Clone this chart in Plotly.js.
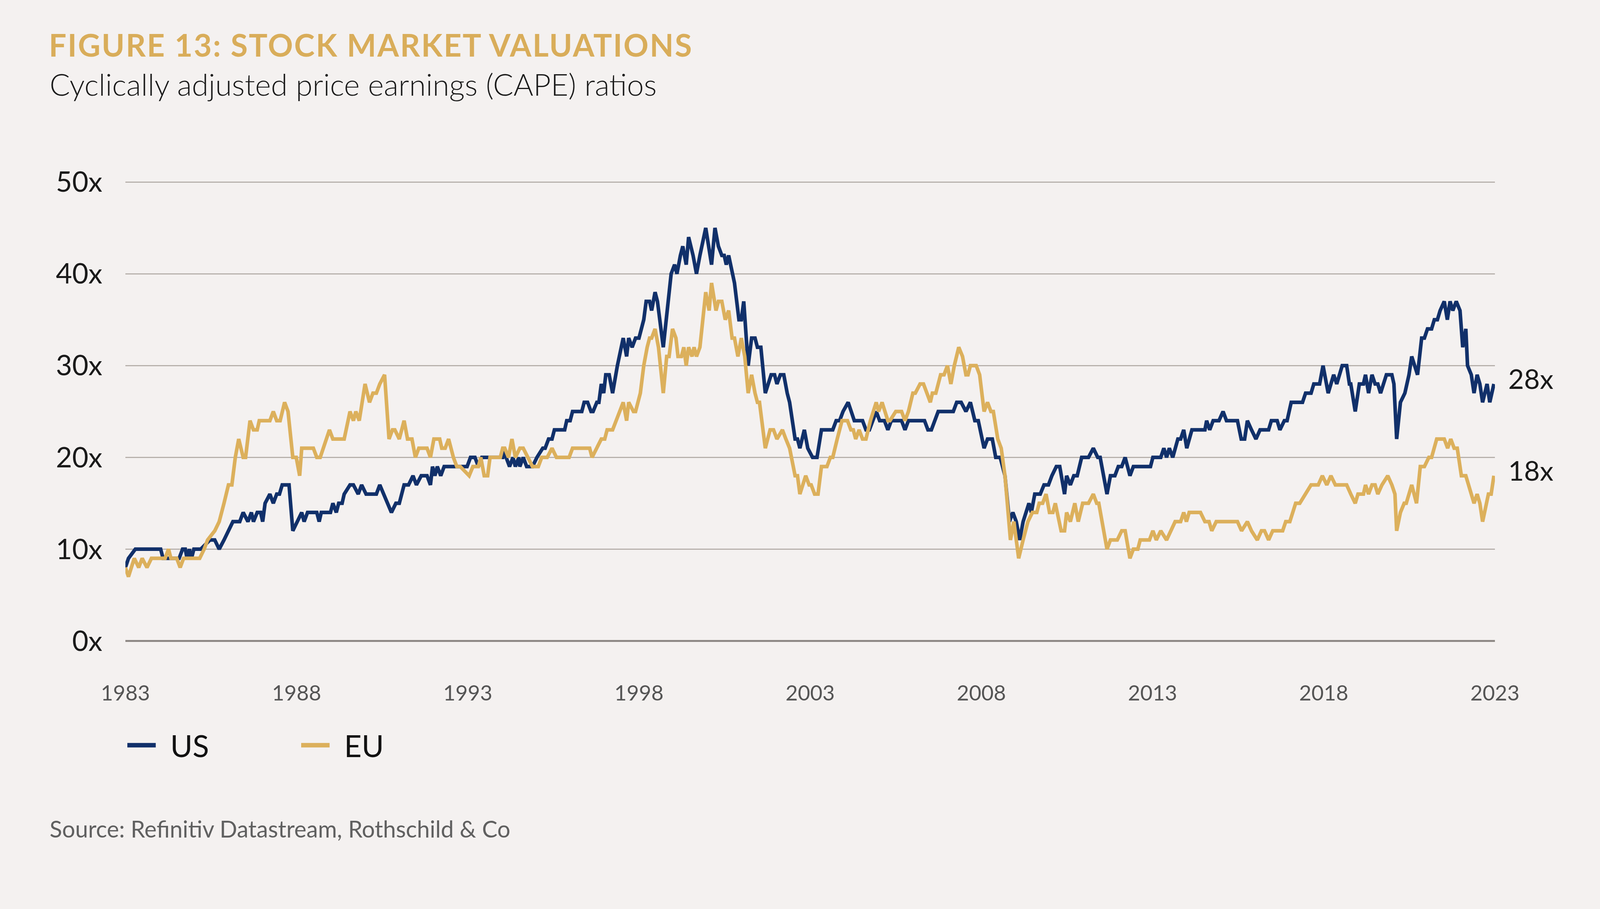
<!DOCTYPE html>
<html><head><meta charset="utf-8">
<script src="https://cdn.plot.ly/plotly-3.0.1.min.js"></script>
<style>
html,body{margin:0;padding:0;background:#f4f1f0;overflow:hidden;}
</style></head><body><div id="chart"></div>
<script>
const chartTitle = 'FIGURE 13: STOCK MARKET VALUATIONS';
const chartSubtitle = 'Cyclically adjusted price earnings (CAPE) ratios';
const sourceNote = 'Source: Refinitiv Datastream, Rothschild &amp; Co';
const seriesNames = ['US', 'EU'];
const yearTicks = [1983, 1988, 1993, 1998, 2003, 2008, 2013, 2018, 2023];
const yTickVals = [0, 10, 20, 30, 40, 50];
const yTickLabels = ['0x', '10x', '20x', '30x', '40x', '50x'];

const usSeries = [
[1983.00,8],[1983.09,9],[1983.29,10],[1984.03,10],[1984.10,9],[1984.57,9],[1984.67,10],[1984.75,10],[1984.80,9],[1984.87,10],[1984.93,9],[1985.00,10],[1985.20,10],[1985.47,11],[1985.61,11],[1985.74,10],[1985.88,11],[1986.01,12],[1986.14,13],[1986.34,13],[1986.44,14],[1986.58,13],[1986.68,14],[1986.74,13],[1986.85,14],[1986.95,14],[1987.01,13],[1987.08,15],[1987.22,16],[1987.32,15],[1987.42,16],[1987.50,16],[1987.58,17],[1987.78,17],[1987.89,12],[1988.02,13],[1988.15,14],[1988.22,13],[1988.32,14],[1988.59,14],[1988.66,13],[1988.72,14],[1988.99,14],[1989.06,15],[1989.16,14],[1989.23,15],[1989.33,15],[1989.39,16],[1989.56,17],[1989.66,17],[1989.80,16],[1989.90,17],[1990.03,16],[1990.33,16],[1990.43,17],[1990.77,14],[1990.90,15],[1991.00,15],[1991.14,17],[1991.27,17],[1991.40,18],[1991.50,17],[1991.64,18],[1991.81,18],[1991.91,17],[1991.97,19],[1992.04,18],[1992.11,19],[1992.21,18],[1992.31,19],[1992.98,19],[1993.08,20],
[1993.21,20],[1993.31,19],[1993.41,20],[1994.02,20],[1994.05,21],[1994.12,20],[1994.22,19],[1994.32,20],[1994.39,19],[1994.49,20],[1994.52,19],[1994.62,20],[1994.72,19],[1994.89,19],[1995.02,20],[1995.19,21],[1995.26,21],[1995.36,22],[1995.46,22],[1995.53,23],[1995.83,23],[1995.89,24],[1995.99,24],[1996.06,25],[1996.33,25],[1996.40,26],[1996.50,26],[1996.60,25],[1996.66,25],[1996.77,26],[1996.83,26],[1996.90,28],[1996.97,27],[1997.03,29],[1997.13,29],[1997.23,27],[1997.37,30],[1997.54,33],[1997.64,31],[1997.70,33],[1997.80,32],[1997.90,33],[1998.00,33],[1998.14,35],[1998.21,37],[1998.31,37],[1998.37,36],[1998.47,38],[1998.54,37],[1998.71,32],[1998.84,37],[1998.94,40],[1999.04,41],[1999.11,40],[1999.21,42],[1999.28,43],[1999.38,41],[1999.45,44],[1999.58,42],[1999.68,40],[1999.78,42],[1999.95,45],[2000.12,41],[2000.22,45],[2000.32,43],[2000.42,42],[2000.49,42],[2000.55,41],[2000.62,42],[2000.79,39],[2000.92,35],[2000.99,35],[2001.06,37],[2001.19,30],[2001.29,33],[2001.39,33],[2001.46,32],[2001.56,32],[2001.69,27],[2001.86,29],[2001.96,29],[2002.03,28],[2002.13,29],[2002.23,29],[2002.33,27],[2002.40,26],[2002.56,22],[2002.63,22],[2002.70,21],[2002.83,23],[2002.93,21],[2003.07,20],[2003.20,20],[2003.33,23],
[2003.66,23],[2003.76,24],[2003.86,24],[2003.96,25],[2004.11,26],[2004.29,24],[2004.53,24],[2004.63,23],[2004.73,23],[2004.93,25],[2005.03,24],[2005.17,24],[2005.27,23],[2005.37,24],[2005.67,24],[2005.77,23],[2005.87,24],[2006.34,24],[2006.44,23],[2006.54,23],[2006.64,24],[2006.74,25],[2007.18,25],[2007.28,26],[2007.41,26],[2007.55,25],[2007.68,26],[2007.81,24],[2007.91,24],[2008.08,21],[2008.18,22],[2008.32,22],[2008.42,20],[2008.55,20],[2008.69,18],[2008.82,13],[2008.92,14],[2009.02,13],[2009.12,11],[2009.22,13],[2009.39,15],[2009.46,14],[2009.56,16],[2009.72,16],[2009.83,17],[2009.96,17],[2010.06,18],[2010.19,19],[2010.29,19],[2010.43,16],[2010.49,18],[2010.60,17],[2010.70,18],[2010.80,18],[2010.93,20],[2011.13,20],[2011.27,21],[2011.40,20],[2011.47,20],[2011.67,16],[2011.77,18],[2011.90,18],[2012.00,19],[2012.10,19],[2012.20,20],[2012.34,18],[2012.44,19],[2012.94,19],[2013.01,20],[2013.24,20],
[2013.33,21],[2013.41,20],[2013.49,21],[2013.59,20],[2013.74,22],[2013.82,22],[2013.91,23],[2014.00,21],[2014.15,23],[2014.53,23],[2014.58,24],[2014.67,23],[2014.77,24],[2014.94,24],[2015.06,25],[2015.16,24],[2015.48,24],[2015.59,22],[2015.69,22],[2015.77,24],[2015.89,23],[2016.02,22],[2016.14,23],[2016.39,23],[2016.47,24],[2016.64,24],[2016.72,23],[2016.85,24],[2016.93,24],[2017.05,26],[2017.38,26],[2017.47,27],[2017.63,27],[2017.71,28],[2017.88,28],[2017.98,30],[2018.13,27],[2018.29,29],[2018.38,28],[2018.54,30],[2018.67,30],[2018.75,28],[2018.79,28],[2018.92,25],[2019.04,28],[2019.16,28],[2019.22,29],[2019.31,27],[2019.41,29],[2019.50,28],[2019.58,28],[2019.66,27],[2019.83,29],[2019.99,29],[2020.05,28],[2020.13,22],[2020.24,26],[2020.37,27],[2020.49,29],[2020.57,31],[2020.74,29],[2020.86,33],[2020.94,33],[2021.03,34],[2021.15,34],[2021.23,35],[2021.32,35],[2021.40,36],[2021.52,37],[2021.61,35],[2021.69,37],[2021.77,36],[2021.87,37],[2021.98,36],[2022.06,32],[2022.15,34],[2022.20,30],[2022.31,29],[2022.39,27],[2022.48,29],[2022.56,28],[2022.64,26],[2022.77,28],[2022.85,26],[2022.97,28]
];

const euSeries = [
[1983.00,8],[1983.09,7],[1983.26,9],[1983.39,8],[1983.49,9],[1983.63,8],[1983.76,9],[1984.16,9],[1984.26,10],[1984.33,9],[1984.50,9],[1984.60,8],[1984.70,9],[1985.17,9],[1985.30,10],[1985.40,11],[1985.61,12],[1985.74,13],[1985.88,15],[1986.01,17],[1986.11,17],[1986.21,20],[1986.31,22],[1986.44,20],[1986.51,20],[1986.64,24],[1986.74,23],[1986.85,23],[1986.91,24],[1987.22,24],[1987.32,25],[1987.42,24],[1987.52,24],[1987.65,26],[1987.75,25],[1987.89,20],[1987.99,20],[1988.09,18],[1988.15,21],[1988.22,21],[1988.49,21],[1988.59,20],[1988.69,20],[1988.96,23],[1989.06,22],[1989.39,22],[1989.56,25],[1989.66,24],[1989.73,25],[1989.83,24],[1990.00,28],[1990.13,26],[1990.23,27],[1990.33,27],[1990.43,28],[1990.57,29],[1990.70,22],[1990.80,23],[1990.87,23],[1991.00,22],[1991.14,24],[1991.24,22],[1991.37,22],[1991.47,20],[1991.57,21],[1991.81,21],[1991.91,20],[1992.01,22],[1992.18,22],[1992.24,21],[1992.34,21],[1992.44,22],[1992.58,20],[1992.68,19],[1992.78,19],[1993.04,18],
[1993.15,19],[1993.31,19],[1993.38,20],[1993.48,18],[1993.58,18],[1993.65,20],[1993.95,20],[1994.02,21],[1994.08,21],[1994.19,20],[1994.29,22],[1994.39,20],[1994.52,21],[1994.62,21],[1994.76,20],[1994.89,19],[1995.06,19],[1995.16,20],[1995.32,20],[1995.46,21],[1995.59,20],[1995.96,20],[1996.06,21],[1996.56,21],[1996.63,20],[1996.77,21],[1996.90,22],[1997.00,22],[1997.07,23],[1997.23,23],[1997.34,24],[1997.44,25],[1997.54,26],[1997.64,24],[1997.70,26],[1997.84,25],[1997.90,25],[1998.04,27],[1998.14,30],[1998.24,32],[1998.31,33],[1998.37,33],[1998.47,34],[1998.57,32],[1998.71,27],[1998.81,31],[1998.88,31],[1998.98,34],[1999.08,33],[1999.14,31],[1999.24,31],[1999.31,32],[1999.38,30],[1999.45,32],[1999.55,31],[1999.61,32],[1999.68,31],[1999.78,32],[1999.95,38],[2000.05,36],[2000.12,39],[2000.25,36],[2000.32,37],[2000.42,37],[2000.52,35],[2000.62,36],[2000.72,33],[2000.79,33],[2000.89,31],[2000.99,33],[2001.09,31],[2001.19,27],[2001.29,29],[2001.39,27],[2001.46,26],[2001.52,26],[2001.69,21],[2001.83,23],[2001.93,23],[2002.03,22],[2002.19,23],[2002.29,22],[2002.40,21],[2002.56,18],[2002.63,18],[2002.70,16],[2002.87,18],[2002.97,17],[2003.03,17],[2003.13,16],[2003.23,16],[2003.33,19],
[2003.49,19],[2003.59,20],[2003.66,20],[2003.79,22],[2003.93,24],[2004.09,24],[2004.19,23],[2004.26,23],[2004.33,22],[2004.43,23],[2004.53,22],[2004.63,22],[2004.76,24],[2004.93,26],[2005.00,25],[2005.10,26],[2005.27,24],[2005.33,24],[2005.50,25],[2005.67,25],[2005.77,24],[2005.87,25],[2006.00,27],[2006.07,27],[2006.21,28],[2006.31,28],[2006.41,27],[2006.51,26],[2006.57,27],[2006.67,27],[2006.81,29],[2006.91,29],[2007.01,30],[2007.11,28],[2007.21,30],[2007.34,32],[2007.45,31],[2007.55,29],[2007.61,29],[2007.68,30],[2007.85,30],[2007.95,29],[2008.08,25],[2008.18,26],[2008.28,25],[2008.35,25],[2008.48,22],[2008.58,21],[2008.69,18],[2008.85,11],[2008.95,13],[2009.09,9],[2009.22,11],[2009.36,13],[2009.49,14],[2009.62,14],[2009.69,15],[2009.79,15],[2009.89,16],[2009.99,14],[2010.09,14],[2010.16,15],[2010.33,12],[2010.43,12],[2010.49,14],[2010.60,13],[2010.73,15],[2010.83,13],[2010.96,15],[2011.13,15],[2011.27,16],[2011.37,15],[2011.43,15],[2011.57,12],[2011.67,10],[2011.77,11],[2011.97,11],[2012.10,12],[2012.20,12],[2012.34,9],[2012.44,10],[2012.57,10],[2012.64,11],[2012.91,11],[2013.01,12],[2013.11,11],
[2013.24,12],[2013.41,11],[2013.53,12],[2013.66,13],[2013.82,13],[2013.91,14],[2013.99,13],[2014.07,14],[2014.40,14],[2014.53,13],[2014.65,13],[2014.73,12],[2014.86,13],[2015.48,13],[2015.60,12],[2015.77,13],[2015.89,12],[2016.06,11],[2016.18,12],[2016.27,12],[2016.39,11],[2016.51,12],[2016.80,12],[2016.89,13],[2017.01,13],[2017.18,15],[2017.30,15],[2017.47,16],[2017.63,17],[2017.84,17],[2017.96,18],[2018.09,17],[2018.21,18],[2018.34,17],[2018.67,17],[2018.79,16],[2018.92,15],[2019.00,16],[2019.16,16],[2019.22,17],[2019.31,16],[2019.41,17],[2019.50,17],[2019.58,16],[2019.70,17],[2019.87,18],[2019.99,17],[2020.08,16],[2020.13,12],[2020.24,14],[2020.35,15],[2020.41,15],[2020.57,17],[2020.71,15],[2020.82,19],[2020.94,19],[2021.07,20],[2021.15,20],[2021.23,21],[2021.30,22],[2021.52,22],[2021.62,21],[2021.71,22],[2021.81,21],[2021.90,21],[2022.02,18],[2022.15,18],[2022.23,17],[2022.31,16],[2022.39,15],[2022.48,16],[2022.56,15],[2022.64,13],[2022.77,15],[2022.81,16],[2022.89,16],[2022.97,18]
];

const seriesColors = ['#11306a', '#dcb05c'];
const FONT = 'Lato, "Open Sans", sans-serif';

// Scale the 4224x2328 design to the real viewport (handles device pixel ratio)
const vw = window.innerWidth || 4224, vh = window.innerHeight || 2328;
const k = Math.min(vw / 4224, vh / 2328);
const px = v => v * k;
const ipx = v => Math.round(v * k);
const W = Math.floor(4224 * k), H = Math.floor(2328 * k);

const st = document.createElement('style');
st.textContent = '.gtitle{letter-spacing:' + px(3) + 'px;} #chart{width:' + W + 'px;height:' + H + 'px;}';
document.head.appendChild(st);

const allSeries = [usSeries, euSeries];
const traces = allSeries.map((s, i) => ({
  type: 'scatter', mode: 'lines', name: seriesNames[i],
  x: s.map(d => d[0]), y: s.map(d => d[1]),
  line: {color: seriesColors[i], width: px(9.5), shape: 'linear'},
  hoverinfo: 'skip'
}));

const endLabels = allSeries.map((s, i) => {
  const last = s[s.length - 1];
  return {xref: 'x', yref: 'y', x: last[0], y: last[1], text: last[1] + 'x',
    xanchor: 'left', yanchor: 'middle', xshift: px(36), yshift: px(15), showarrow: false,
    font: {family: FONT, size: px(72), color: '#1a1a1a'}};
});

const layout = {
  width: W, height: H,
  paper_bgcolor: '#f4f1f0', plot_bgcolor: '#f4f1f0',
  margin: {l: ipx(331), r: ipx(277), t: ipx(480), b: ipx(634), pad: 0},
  font: {family: FONT, color: '#1a1a1a'},
  title: {text: chartTitle, font: {family: FONT, size: px(82), weight: 700, color: '#d9ad5a'},
    xref: 'container', yref: 'container', x: 129 / 4224, xanchor: 'left', y: 1 - 121 / 2328, yanchor: 'middle'},
  xaxis: {range: [1983, 2023], tickvals: yearTicks, ticktext: yearTicks.map(String),
    showgrid: false, zeroline: false, showline: false, ticks: '',
    tickfont: {family: FONT, size: px(56), color: '#555555'}, ticklabelstandoff: ipx(100), fixedrange: true},
  yaxis: {range: [-0.02, 50.05], tickvals: yTickVals, ticktext: yTickLabels,
    showgrid: true, gridcolor: '#b7b1ac', gridwidth: px(3),
    zeroline: true, zerolinecolor: '#8e8985', zerolinewidth: px(5), showline: false, ticks: '',
    tickfont: {family: FONT, size: px(74), color: '#1a1a1a'}, ticklabelstandoff: ipx(60), fixedrange: true},
  showlegend: true,
  legend: {orientation: 'h', x: 0.0, xanchor: 'left', y: -0.2265, yanchor: 'middle',
    font: {family: FONT, size: px(80), color: '#111111'}, bgcolor: 'rgba(0,0,0,0)',
    itemwidth: Math.max(30, ipx(108)), entrywidth: ipx(335), entrywidthmode: 'pixels', traceorder: 'normal'},
  annotations: [
    {xref: 'paper', yref: 'paper', x: (129 - 331) / 3616, y: (1694 - 222) / 1214, xanchor: 'left', yanchor: 'middle',
     text: chartSubtitle, showarrow: false, font: {family: FONT, size: px(80), weight: 300, color: '#1a1a1a'}},
    {xref: 'paper', yref: 'paper', x: (129 - 331) / 3616, y: (1694 - 2190) / 1214, xanchor: 'left', yanchor: 'middle',
     text: sourceNote, showarrow: false, font: {family: FONT, size: px(61), color: '#606060'}}
  ].concat(endLabels)
};

Plotly.newPlot('chart', traces, layout, {staticPlot: true, displayModeBar: false}).then(gd => {
  gd.querySelectorAll('.legendlines path').forEach(p => {
    p.setAttribute('d', 'M5,0h' + px(75));
    p.style.strokeWidth = px(12) + 'px';
  });
});
</script></body></html>
